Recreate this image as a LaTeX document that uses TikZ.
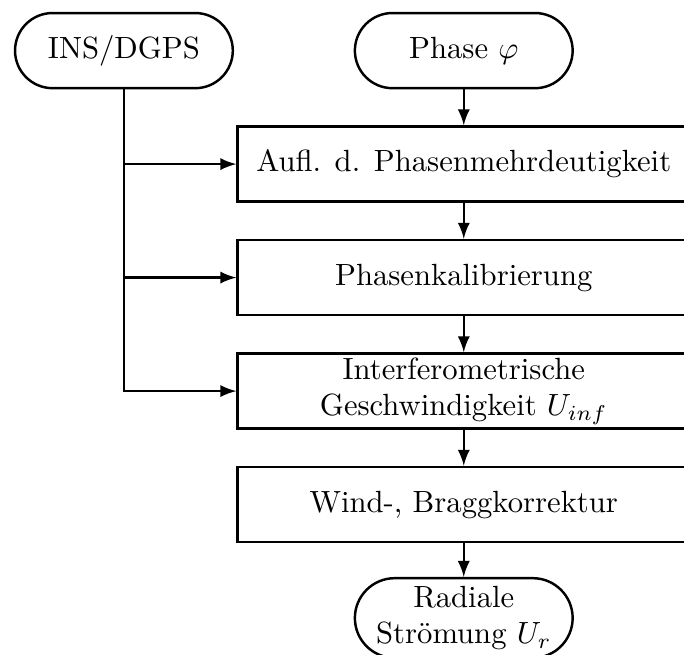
\documentclass[tikz,border=0pt]{standalone}
\usetikzlibrary{positioning}
\begin{document}
\begin{tikzpicture}[>=latex, node distance=37pt, line width=0.8pt,
  term/.style={draw, rounded corners=12.25pt, minimum width=71pt, minimum height=24.5pt, inner sep=1pt, align=center},
  stepbox/.style={draw, minimum width=147.5pt, minimum height=24.5pt, inner sep=1pt, align=center}]
\useasboundingbox (0,0) rectangle (223pt,-213.5pt);
\node[term] (phase) at (151.2pt,-16.5pt) {Phase $\varphi$};
\node[term, left of=phase, node distance=110.8pt] (ins) {INS/DGPS};
\node[stepbox, below of=phase] (aufl) {Aufl. d. Phasenmehrdeutigkeit};
\node[stepbox, below of=aufl] (kalib) {Phasenkalibrierung};
\node[stepbox, below of=kalib] (interf) {Interferometrische\\Geschwindigkeit $U_{inf}$};
\node[stepbox, below of=interf] (bragg) {Wind-, Braggkorrektur};
\node[term, below of=bragg, minimum height=26pt, rounded corners=13pt] (radial) {Radiale\\Str\"omung $U_r$};
\draw[->] (phase) -- (aufl);
\draw[->] (aufl) -- (kalib);
\draw[->] (kalib) -- (interf);
\draw[->] (interf) -- (bragg);
\draw[->] (bragg) -- (radial);
\draw[->] (ins) |- (aufl);
\draw[->] (ins) |- (kalib);
\draw[->] (ins) |- (interf);
\end{tikzpicture}
\end{document}
